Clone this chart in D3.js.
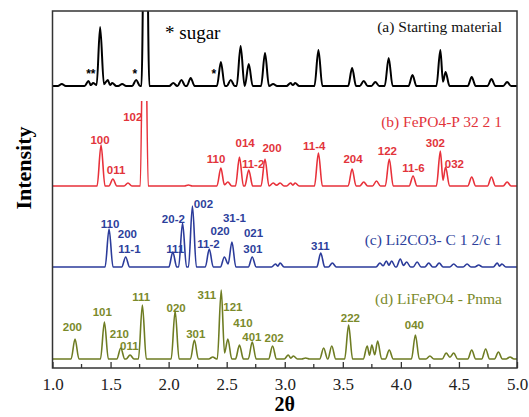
<!DOCTYPE html>
<html>
<head>
<meta charset="utf-8">
<script src="https://cdn.jsdelivr.net/npm/d3@7"></script>
<style>
  body { margin: 0; background: #fff; }
  .hkl { font-family: "Liberation Sans", Arial, sans-serif; font-weight: bold; font-size: 11.5px; }
  .name { font-family: "Liberation Serif", "Times New Roman", serif; font-size: 15.5px; }
</style>
</head>
<body>
<svg width="529" height="417"></svg>
<script>
// peaks as [2theta, height above the baseline]
const peaksA = [[1.08,2],[1.31,5],[1.35,3],[1.41,59],[1.476,6],[1.515,3],[1.60,2],[1.72,6],[1.80,300],
  [2.04,3],[2.11,6],[2.19,8],[2.45,24],[2.535,6],[2.62,40],[2.69,22],[2.83,33],[2.90,2],[3.05,3],[3.09,3],
  [3.29,36],[3.58,18],[3.68,5],[3.78,4],[3.895,28],[4.10,11],[4.34,36],[4.385,14],[4.61,9],[4.78,7],[4.915,4]];
const peaksB = [[1.418,41],[1.52,7],[1.65,3],[1.79,300],[2.17,1],[2.45,18],[2.51,4],[2.61,29],[2.69,16],
  [2.83,27],[2.90,3],[2.96,3],[3.05,3],[3.09,3],[3.29,33],[3.58,17],[3.68,4],[3.79,5],[3.90,27],[4.105,10],
  [4.34,35],[4.385,19],[4.61,9],[4.78,9],[4.915,4]];
const peaksC = [[1.487,38],[1.63,10],[2.036,15],[2.12,44],[2.205,61],[2.35,18],[2.48,10],[2.545,25],
  [2.72,10],[2.92,3],[2.96,4],[3.31,14],[3.41,4],[3.82,4],[3.875,6],[3.92,6],[3.995,8],[4.05,5],[4.14,5],
  [4.24,4],[4.33,4],[4.455,3],[4.57,3],[4.67,2],[4.83,4],[4.87,3]];
const peaksD = [[1.194,20],[1.447,37],[1.588,11],[1.668,4],[1.774,54],[2.056,48],[2.222,19],[2.38,2],
  [2.453,69],[2.51,20],[2.61,14],[2.72,17],[2.895,13],[3.03,4],[3.075,3],[3.18,1],[3.335,11],[3.405,13],
  [3.55,34],[3.71,13],[3.75,14],[3.80,18],[3.90,9],[4.125,24],[4.25,3],[4.39,6],[4.455,6],[4.61,9],
  [4.73,10],[4.84,7],[4.94,2]];

// hkl labels as [text, 2theta, height above the baseline]
const labelsB = [["100",1.409,46],["011",1.547,16],["102",1.691,69],["110",2.409,27],["014",2.659,43],
  ["11-2",2.728,22],["200",2.89,38],["11-4",3.254,40],["204",3.588,27],["122",3.884,35],["11-6",4.108,18],
  ["302",4.297,43],["032",4.461,22]];
const labelsC = [["110",1.496,43],["200",1.645,33],["11-1",1.662,18],["111",2.056,18],["20-2",2.041,48],
  ["002",2.30,63],["020",2.444,36],["11-2",2.343,23],["31-1",2.567,49],["021",2.731,34],["301",2.726,18],
  ["311",3.306,21]];
const labelsD = [["200",1.171,32],["101",1.429,47],["210",1.576,25],["011",1.662,13],["111",1.763,62],
  ["020",2.065,51],["301",2.234,25],["311",2.329,64],["121",2.553,52],["410",2.64,36],["401",2.717,22],
  ["202",2.909,21],["222",3.565,41],["040",4.116,34]];
const sugarStars = [["**",1.33],["*",1.71],["*",2.39]];

const xTicks = [1.0, 1.5, 2.0, 2.5, 3.0, 3.5, 4.0, 4.5, 5.0];
const xMinor = [1.25, 1.75, 2.25, 2.75, 3.25, 3.75, 4.25, 4.75];

const names = ["(a) Starting material", "(b) FePO4-P 32 2 1", "(c) Li2CO3- C 1 2/c 1", "(d) LiFePO4 - Pnma"];

// layout
const svg = d3.select("svg");
const m = {left: 52.5, right: 517, top: 11, bottom: 368};
const x = d3.scaleLinear().domain([1, 5]).range([m.left, m.right]);
const y = d3.scaleLinear().domain([0, m.bottom - m.top]).range([m.bottom, m.top]);

const series = [
  {peaks: peaksA, off: 282, color: "#000", width: 2, hw: 0.034, clipTop: m.top},
  {peaks: peaksB, off: 182, color: "#e8313a", width: 1.6, hw: 0.034, clipTop: 101, labels: labelsB, lc: "#e2343b"},
  {peaks: peaksC, off: 101, color: "#2b3b9a", width: 1.6, hw: 0.034, clipTop: m.top, labels: labelsC, lc: "#2d3f9c"},
  {peaks: peaksD, off: 9, color: "#6e7c22", width: 1.6, hw: 0.034, clipTop: m.top, labels: labelsD, lc: "#7b8a2b"}
];

function profile(peaks, hw) {
  const pts = [[1.0, 0]];
  peaks.forEach(([px, h], i) => {
    const prev = peaks[i - 1], next = peaks[i + 1];
    if (!prev || px - prev[0] >= 2 * hw) pts.push([px - hw, 0]);
    pts.push([px, h]);
    if (!next || next[0] - px >= 2 * hw) pts.push([px + hw, 0]);
    else pts.push([(px + next[0]) / 2, Math.min(h, next[1]) * 0.3]);
  });
  pts.push([5.0, 0]);
  return pts;
}

const defs = svg.append("defs");
series.forEach((s, i) => {
  defs.append("clipPath").attr("id", "clip" + i)
    .append("rect").attr("x", m.left).attr("y", s.clipTop)
    .attr("width", m.right - m.left).attr("height", m.bottom - s.clipTop);
});

// labels first, the curves go over them
series.forEach(s => {
  if (!s.labels) return;
  svg.append("g").selectAll("text").data(s.labels).join("text")
    .attr("class", "hkl")
    .attr("fill", s.lc)
    .attr("text-anchor", "middle")
    .attr("x", d => x(d[1]))
    .attr("y", d => y(s.off + d[2]) + 4)
    .text(d => d[0]);
});

series.forEach((s, i) => {
  const line = d3.line()
    .x(d => x(d[0]))
    .y(d => y(s.off + d[1]))
    .curve(d3.curveMonotoneX);
  svg.append("path")
    .datum(profile(s.peaks, s.hw))
    .attr("clip-path", `url(#clip${i})`)
    .attr("fill", "none")
    .attr("stroke", s.color)
    .attr("stroke-width", s.width)
    .attr("stroke-linejoin", "round")
    .attr("d", line);
});

// sugar stars
svg.append("g").selectAll("text").data(sugarStars).join("text")
  .attr("x", d => x(d[1]))
  .attr("y", y(282 + 12) + 4)
  .attr("text-anchor", "middle")
  .style("font", "bold 12px 'Liberation Sans', Arial, sans-serif")
  .text(d => d[0]);

svg.append("text").attr("x", 165).attr("y", 39)
  .style("font", "19px 'Liberation Serif', 'Times New Roman', serif")
  .text("* sugar");

// series names
const nameY = [32, 127, 245, 304];
const nameC = ["#111", "#e2343b", "#2d3f9c", "#7b8a2b"];
svg.append("g").selectAll("text").data(names).join("text")
  .attr("class", "name")
  .attr("x", 502)
  .attr("y", (d, i) => nameY[i])
  .attr("text-anchor", "end")
  .attr("fill", (d, i) => nameC[i])
  .text(d => d);

// frame
svg.append("rect")
  .attr("x", m.left).attr("y", m.top)
  .attr("width", m.right - m.left).attr("height", m.bottom - m.top)
  .attr("fill", "none").attr("stroke", "#333").attr("stroke-width", 1.5);

// bottom axis, ticks pointing in
const ax = svg.append("g").attr("transform", `translate(0,${m.bottom})`)
  .call(d3.axisBottom(x).tickValues(xTicks).tickFormat(d3.format(".1f")).tickSize(-6).tickPadding(10));
ax.select(".domain").remove();
ax.selectAll("line").attr("stroke", "#333").attr("stroke-width", 1.3);
ax.selectAll("text").attr("fill", "#222")
  .style("font", "17px 'Liberation Serif', 'Times New Roman', serif");
svg.append("g").attr("transform", `translate(0,${m.bottom})`)
  .selectAll("line").data(xMinor).join("line")
  .attr("x1", d => x(d)).attr("x2", d => x(d))
  .attr("y1", 0).attr("y2", -4)
  .attr("stroke", "#333").attr("stroke-width", 1.3);

svg.append("text")
  .attr("x", x(3)).attr("y", 411)
  .attr("text-anchor", "middle")
  .style("font", "bold 20px 'Liberation Serif', 'Times New Roman', serif")
  .text("2θ");

svg.append("text")
  .attr("transform", "translate(31,168) rotate(-90)")
  .attr("text-anchor", "middle")
  .style("font", "bold 22px 'Liberation Serif', 'Times New Roman', serif")
  .text("Intensity");
</script>
</body>
</html>
